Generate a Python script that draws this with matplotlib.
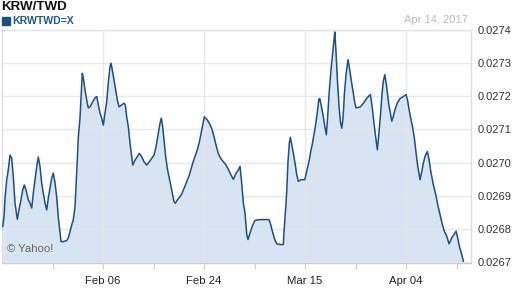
import matplotlib
matplotlib.use("Agg")
import matplotlib.pyplot as plt
from matplotlib.patches import Rectangle

# trading-day position of each sample
t = [0.10, 0.28, 0.42, 0.65, 0.87, 1.11, 1.34, 1.57, 1.80, 2.04, 2.12, 2.40, 2.63, 2.87, 3.09,
     3.33, 3.65, 3.88, 4.12, 4.34, 4.57, 4.81, 5.03, 5.27, 5.50, 5.72, 5.96, 6.20, 6.42, 6.65,
     6.89, 7.11, 7.35, 7.58, 7.80, 8.04, 8.18, 8.50, 8.97, 9.19, 9.43, 9.66, 9.88, 10.12, 10.35,
     10.58, 10.81, 10.99, 11.13, 11.27, 11.50, 11.74, 11.96, 12.20, 12.57, 12.89, 13.13, 13.35, 13.58, 13.82,
     14.04, 14.28, 14.51, 14.73, 14.97, 15.11, 15.29, 15.52, 15.76, 15.98, 16.22, 16.59, 16.91, 17.09, 17.28,
     17.51, 17.74, 17.98, 18.12, 18.44, 18.75, 19.03, 19.36, 19.68, 20.06, 20.42, 20.75, 21.07, 21.35, 21.62,
     21.90, 22.08, 22.27, 22.45, 22.69, 22.91, 23.15, 23.38, 23.61, 23.84, 24.02, 24.30, 24.67, 24.95, 25.23,
     25.60, 25.96, 26.29, 26.65, 26.99, 27.31, 27.58, 27.82, 28.04, 28.37, 28.73, 29.07, 29.39, 29.66, 29.98,
     30.31, 30.67, 31.05, 31.42, 31.74, 32.06, 32.43, 32.75, 32.99, 33.22, 33.45, 33.68, 33.92, 34.10, 34.38,
     34.69, 35.03, 35.35, 35.86, 36.45, 37.01, 37.24, 37.47, 37.80, 38.08, 38.63, 38.99, 39.09, 39.32, 39.46,
     39.64, 39.82, 39.96, 40.16, 40.38, 40.61, 40.85, 41.07, 41.40, 41.96, 42.23, 42.55, 42.79, 43.01, 43.25,
     43.43, 43.66, 43.90, 44.04, 44.26, 44.49, 44.73, 44.95, 45.14, 45.37, 45.60, 45.84, 46.02, 46.12, 46.30,
     46.48, 46.71, 46.89, 47.09, 47.27, 47.45, 47.68, 47.96, 48.19, 48.42, 48.65, 48.89, 49.07, 49.66, 50.13,
     50.59, 51.05, 51.29, 51.52, 51.75, 52.02, 52.22, 52.44, 52.68, 52.85, 53.05, 53.27, 53.60, 53.78, 54.02,
     54.24, 54.47, 54.79, 55.17, 55.62, 56.00, 56.23, 56.46, 56.69, 56.93, 57.15, 57.39, 57.62, 57.94, 58.18,
     58.40, 58.63, 58.95, 59.19, 59.42, 59.78, 60.12, 60.39, 60.71, 61.03, 61.31, 61.64, 61.96, 62.33, 62.65,
     62.93, 63.16, 63.38, 63.66, 63.94]

rate = [0.026808, 0.026838, 0.026894, 0.026948, 0.026978, 0.027023, 0.027014, 0.026958, 0.026879, 0.026843,
        0.026830, 0.026864, 0.026888, 0.026918, 0.026933, 0.026918, 0.026888, 0.026879, 0.026864, 0.026909,
        0.026948, 0.026988, 0.027017, 0.026988, 0.026939, 0.026909, 0.026879, 0.026858, 0.026894, 0.026924,
        0.026954, 0.026969, 0.026939, 0.026897, 0.026837, 0.026789, 0.026763, 0.026763, 0.026766, 0.026774,
        0.026793, 0.026813, 0.026828, 0.026868, 0.026969, 0.027078, 0.027134, 0.027210, 0.027269, 0.027255,
        0.027219, 0.027189, 0.027165, 0.027168, 0.027183, 0.027195, 0.027199, 0.027174, 0.027150, 0.027134,
        0.027113, 0.027150, 0.027183, 0.027240, 0.027289, 0.027299, 0.027279, 0.027249, 0.027219, 0.027189,
        0.027168, 0.027174, 0.027179, 0.027174, 0.027138, 0.027108, 0.027059, 0.027018, 0.026993, 0.027008,
        0.027018, 0.027028, 0.027018, 0.027003, 0.026993, 0.027003, 0.027013, 0.027023, 0.027048, 0.027083,
        0.027119, 0.027134, 0.027108, 0.027068, 0.027018, 0.026983, 0.026958, 0.026933, 0.026908, 0.026883,
        0.026878, 0.026888, 0.026898, 0.026908, 0.026923, 0.026943, 0.026963, 0.026988, 0.027013, 0.027033,
        0.027058, 0.027088, 0.027113, 0.027138, 0.027131, 0.027119, 0.027103, 0.027078, 0.027053, 0.027028,
        0.027013, 0.027003, 0.026993, 0.026978, 0.026963, 0.026950, 0.026968, 0.026978, 0.026989, 0.026939,
        0.026879, 0.026849, 0.026784, 0.026769, 0.026789, 0.026809, 0.026826, 0.026828, 0.026829, 0.026829,
        0.026829, 0.026814, 0.026794, 0.026769, 0.026756, 0.026754, 0.026754, 0.026794, 0.026864, 0.026914,
        0.027004, 0.027059, 0.027076, 0.027054, 0.027029, 0.026999, 0.026964, 0.026944, 0.026949, 0.026949,
        0.026974, 0.027004, 0.027034, 0.027056, 0.027086, 0.027110, 0.027144, 0.027190, 0.027193, 0.027170,
        0.027144, 0.027110, 0.027084, 0.027140, 0.027220, 0.027280, 0.027330, 0.027370, 0.027393, 0.027330,
        0.027250, 0.027170, 0.027125, 0.027104, 0.027135, 0.027205, 0.027265, 0.027310, 0.027280, 0.027245,
        0.027215, 0.027180, 0.027165, 0.027168, 0.027180, 0.027195, 0.027205, 0.027170, 0.027125, 0.027084,
        0.027039, 0.027084, 0.027140, 0.027210, 0.027245, 0.027265, 0.027235, 0.027175, 0.027155, 0.027125,
        0.027140, 0.027160, 0.027180, 0.027193, 0.027199, 0.027205, 0.027185, 0.027155, 0.027129, 0.027104,
        0.027074, 0.027029, 0.026989, 0.026949, 0.026974, 0.026999, 0.027019, 0.027034, 0.027009, 0.026974,
        0.026934, 0.026904, 0.026874, 0.026844, 0.026814, 0.026794, 0.026779, 0.026756, 0.026774, 0.026784,
        0.026794, 0.026774, 0.026749, 0.026729, 0.026704]

x_ticks = [14, 28, 42, 56]
x_labels = ["Feb 06", "Feb 24", "Mar 15", "Apr 04"]
x_minor = [7, 21, 35, 49, 63]
y_ticks = [0.0267, 0.0268, 0.0269, 0.0270, 0.0271, 0.0272, 0.0273, 0.0274]
y_labels = ["0.0267", "0.0268", "0.0269", "0.0270", "0.0271", "0.0272", "0.0273", "0.0274"]

plt.rcParams['font.family'] = ['Liberation Sans', 'DejaVu Sans']

W, H = 512, 288
fig = plt.figure(figsize=(W / 100, H / 100), dpi=100)
ax = fig.add_axes([2 / W, 25.5 / H, 469 / W, 232.8 / H])

line_c = "#1c4f86"
fill_c = "#d6e5f1"
grid_c = "#e6e6e6"

ax.fill_between(t, rate, 0.0267, color=fill_c, linewidth=0, zorder=1)
ax.plot(t, rate, color=line_c, linewidth=1.1, zorder=3)

ax.set_xlim(0, 65)
ax.set_ylim(0.0267, 0.0274)

ax.set_xticks(x_ticks)
ax.set_xticklabels(x_labels)
ax.set_xticks(x_minor, minor=True)
ax.set_yticks(y_ticks)
ax.set_yticklabels(y_labels)

ax.yaxis.tick_right()
ax.tick_params(axis='y', which='both', length=0, pad=5, labelsize=8.0, labelcolor="#333333")
ax.tick_params(axis='x', which='major', length=4, width=0.8, color="#cccccc", pad=6,
               labelsize=8.2, labelcolor="#222222")
ax.tick_params(axis='x', which='minor', length=4, width=0.8, color="#cccccc")

ax.grid(True, axis='y', color=grid_c, linewidth=1.0, zorder=0)
ax.grid(True, axis='x', which='major', color=grid_c, linewidth=1.0, zorder=0)
ax.set_axisbelow(False)
for g in ax.get_xgridlines() + ax.get_ygridlines():
    g.set_zorder(2)
    g.set_alpha(0.9)

for s in ax.spines.values():
    s.set_color("#dddddd")
    s.set_linewidth(1.0)
ax.spines['bottom'].set_color("#cccccc")

fig.text(1 / W, 1 - 10.3 / H, "KRW/TWD", fontsize=9.6, fontweight='bold', color="#111111",
         va='baseline', ha='left')
fig.patches.append(Rectangle((2 / W, 1 - 25 / H), 8 / W, 8.3 / H, transform=fig.transFigure,
                             color="#1c4f86", figure=fig))
fig.text(12.5 / W, 1 - 24.3 / H, "KRWTWD=X", fontsize=7.6, fontweight='bold', color="#1d5a99",
         va='baseline', ha='left')
fig.text(467.5 / W, 1 - 23.3 / H, "Apr 14, 2017", fontsize=8.0, color="#bbbbbb",
         va='baseline', ha='right')
ax.text(0.011, 0.06, "© Yahoo!", transform=ax.transAxes, fontsize=8.2, color="#666666",
        va='center', ha='left', zorder=4)

fig.savefig("out.png", dpi=100)
